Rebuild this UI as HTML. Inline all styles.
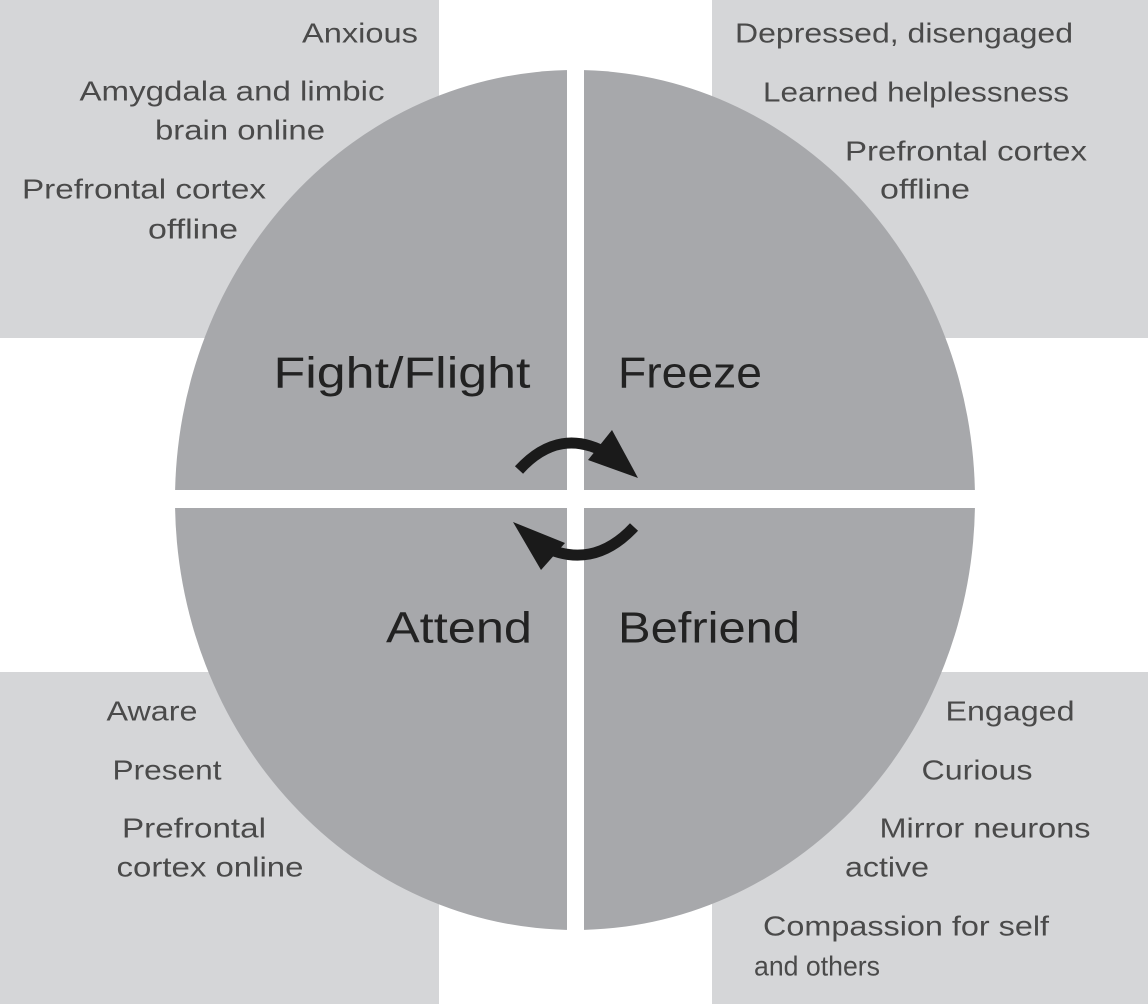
<!DOCTYPE html>
<html><head><meta charset="utf-8"><style>
html,body{margin:0;padding:0;background:#fff}
svg{display:block}
text{font-family:"Liberation Sans",sans-serif}
.s{font-size:28px;fill:#4a4a4a}
.b{font-size:44px;fill:#222}
</style></head><body>
<svg width="1148" height="1004" viewBox="0 0 1148 1004">
<rect x="0" y="0" width="1148" height="1004" fill="#fff"/>
<rect x="0" y="0" width="439" height="338" fill="#d5d6d8"/>
<rect x="712" y="0" width="436" height="338" fill="#d5d6d8"/>
<rect x="0" y="672" width="439" height="332" fill="#d5d6d8"/>
<rect x="712" y="672" width="436" height="332" fill="#d5d6d8"/>
<ellipse cx="575" cy="500" rx="400" ry="430" fill="#a7a8ab"/>
<rect x="567" y="50" width="17" height="900" fill="#fff"/>
<rect x="160" y="490" width="830" height="18" fill="#fff"/>
<g text-anchor="middle" dominant-baseline="central" lengthAdjust="spacingAndGlyphs">
<text class="s" x="360" y="33" textLength="116" lengthAdjust="spacingAndGlyphs">Anxious</text>
<text class="s" x="232" y="91" textLength="305" lengthAdjust="spacingAndGlyphs">Amygdala and limbic</text>
<text class="s" x="240" y="130" textLength="170" lengthAdjust="spacingAndGlyphs">brain online</text>
<text class="s" x="144" y="189" textLength="244" lengthAdjust="spacingAndGlyphs">Prefrontal cortex</text>
<text class="s" x="193" y="229" textLength="90" lengthAdjust="spacingAndGlyphs">offline</text>
<text class="s" x="904" y="33" textLength="338" lengthAdjust="spacingAndGlyphs">Depressed, disengaged</text>
<text class="s" x="916" y="92" textLength="306" lengthAdjust="spacingAndGlyphs">Learned helplessness</text>
<text class="s" x="966" y="151" textLength="242" lengthAdjust="spacingAndGlyphs">Prefrontal cortex</text>
<text class="s" x="925" y="189" textLength="90" lengthAdjust="spacingAndGlyphs">offline</text>
<text class="b" x="402" y="373" textLength="257" lengthAdjust="spacingAndGlyphs">Fight/Flight</text>
<text class="b" x="690" y="373" textLength="144" lengthAdjust="spacingAndGlyphs">Freeze</text>
<text class="b" x="459" y="628" textLength="146" lengthAdjust="spacingAndGlyphs">Attend</text>
<text class="b" x="709" y="628" textLength="182" lengthAdjust="spacingAndGlyphs">Befriend</text>
<text class="s" x="152" y="711" textLength="91" lengthAdjust="spacingAndGlyphs">Aware</text>
<text class="s" x="167" y="770" textLength="109" lengthAdjust="spacingAndGlyphs">Present</text>
<text class="s" x="194" y="828" textLength="144" lengthAdjust="spacingAndGlyphs">Prefrontal</text>
<text class="s" x="210" y="867" textLength="187" lengthAdjust="spacingAndGlyphs">cortex online</text>
<text class="s" x="1010" y="711" textLength="129" lengthAdjust="spacingAndGlyphs">Engaged</text>
<text class="s" x="977" y="770" textLength="111" lengthAdjust="spacingAndGlyphs">Curious</text>
<text class="s" x="985" y="828" textLength="211" lengthAdjust="spacingAndGlyphs">Mirror neurons</text>
<text class="s" x="887" y="867" textLength="84" lengthAdjust="spacingAndGlyphs">active</text>
<text class="s" x="906" y="926" textLength="286" lengthAdjust="spacingAndGlyphs">Compassion for self</text>
<text class="s" x="817" y="966" textLength="126" lengthAdjust="spacingAndGlyphs">and others</text>
</g>
<path d="M519,470 Q560,425 610,455" stroke="#1a1a1a" stroke-width="11" fill="none"/>
<polygon points="612,430 638,478 588,460" fill="#1a1a1a"/>
<path d="M634,527 Q592,572 540,545" stroke="#1a1a1a" stroke-width="11" fill="none"/>
<polygon points="513,522 541,570 565,543" fill="#1a1a1a"/>
</svg>
</body></html>
